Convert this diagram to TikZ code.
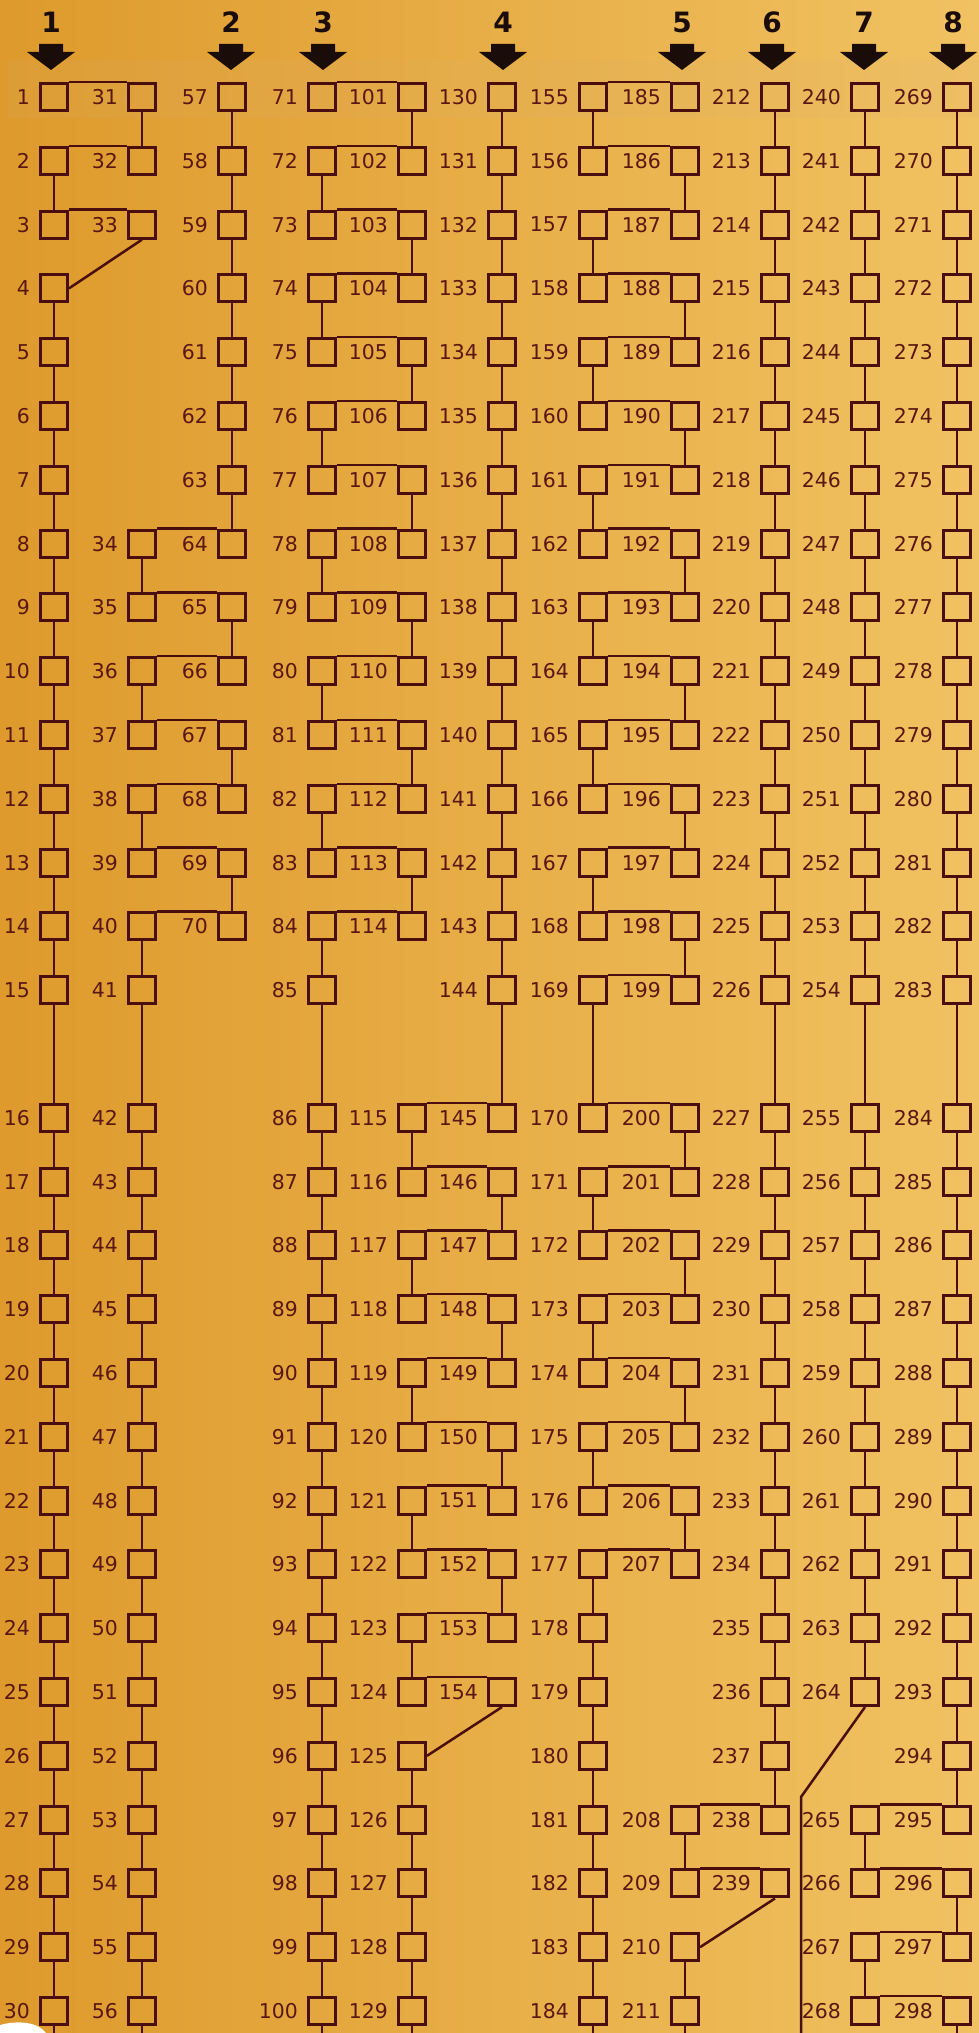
\documentclass[tikz,border=0pt]{standalone}
\usepackage{fontspec}
\setmainfont{DejaVu Sans}
\definecolor{bgl}{RGB}{222,154,44}
\definecolor{bgm}{RGB}{236,180,78}
\definecolor{bgr}{RGB}{241,194,98}
\definecolor{linec}{RGB}{74,14,14}
\definecolor{textc}{RGB}{90,22,18}
\definecolor{hdrc}{RGB}{26,12,8}
\definecolor{bandc}{RGB}{215,175,120}
\newcommand\mybox[3]{%
  \pgfmathtruncatemacro\rr{#3}%
  \pgfmathsetmacro\yy{\rr<16 ? 97+(\rr-1)*63.8 : 97+\rr*63.8}%
  \node[box,label={[lbl]left:#1}] (b#1) at (#2,\yy) {};}
\newcommand\hcon[2]{\draw[wire] (b#1.north east) -- (b#2.north west);}
\newcommand\vcon[2]{\draw[wire] (b#1.south) -- (b#2.north);}
\begin{document}
\begin{tikzpicture}[x=0.5pt,y=-0.5pt,
  wire/.style={draw=linec,line width=1.25pt},
  box/.style={rectangle,draw=linec,line width=1.5pt,minimum size=13.5pt,inner sep=0pt},
  lbl/.style={text=textc,font=\fontsize{10.2}{11}\selectfont,inner sep=0pt},
  hdr/.style={text=hdrc,font=\fontsize{14}{15}\selectfont\bfseries,inner sep=0pt},
  label distance=4.4pt,
  darrow/.pic={\fill[hdrc] (-12,44) -- (12,44) -- (12,52) -- (24,52) -- (0,70) -- (-24,52) -- (-12,52) -- cycle;}]
\useasboundingbox (0,0) rectangle (979,2033);
\shade[left color=bgl, middle color=bgm, right color=bgr] (0,0) rectangle (979,2033);
\fill[bandc,opacity=0.12] (8,60) rectangle (979,118);
\coordinate (bot) at (0,2045);
% headers
\foreach \x/\t in {51/1,231/2,323/3,503/4,682/5,772/6,864/7,953/8}{
  \node[hdr] (h\t) at (\x,22) {\t};
  \pic at (\x,0) {darrow};
}
% boxes
\foreach \n in {1,...,30}{\mybox{\n}{54}{\n}}
\foreach \n in {31,32,33}{\mybox{\n}{142}{\n-30}}
\foreach \n in {34,...,56}{\mybox{\n}{142}{\n-26}}
\foreach \n in {57,...,70}{\mybox{\n}{232}{\n-56}}
\foreach \n in {71,...,100}{\mybox{\n}{322}{\n-70}}
\foreach \n in {101,...,114}{\mybox{\n}{412}{\n-100}}
\foreach \n in {115,...,129}{\mybox{\n}{412}{\n-99}}
\foreach \n in {130,...,154}{\mybox{\n}{502}{\n-129}}
\foreach \n in {155,...,184}{\mybox{\n}{593}{\n-154}}
\foreach \n in {185,...,207}{\mybox{\n}{685}{\n-184}}
\foreach \n in {208,...,211}{\mybox{\n}{685}{\n-181}}
\foreach \n in {212,...,239}{\mybox{\n}{775}{\n-211}}
\foreach \n in {240,...,264}{\mybox{\n}{865}{\n-239}}
\foreach \n in {265,...,268}{\mybox{\n}{865}{\n-238}}
\foreach \n in {269,...,298}{\mybox{\n}{957}{\n-268}}
% A/B
\hcon{1}{31}\hcon{2}{32}\hcon{3}{33}
\vcon{31}{32}\vcon{2}{3}
\draw[wire] (b33.south) -- (b4.east);
\foreach \n in {4,...,29}{\pgfmathtruncatemacro\m{\n+1}\vcon{\n}{\m}}
\draw[wire] (b30.south) -- (b30.south |- bot);
% B/C
\foreach \n in {57,...,63}{\pgfmathtruncatemacro\m{\n+1}\vcon{\n}{\m}}
\foreach \n in {34,...,40}{\pgfmathtruncatemacro\m{\n+30}\hcon{\n}{\m}}
\foreach \n in {34,36,38,65,67,69}{\pgfmathtruncatemacro\m{\n+1}\vcon{\n}{\m}}
\foreach \n in {40,...,55}{\pgfmathtruncatemacro\m{\n+1}\vcon{\n}{\m}}
\draw[wire] (b56.south) -- (b56.south |- bot);
% D/E
\foreach \n in {71,...,84}{\pgfmathtruncatemacro\m{\n+30}\hcon{\n}{\m}}
\foreach \n in {101,103,...,113}{\pgfmathtruncatemacro\m{\n+1}\vcon{\n}{\m}}
\foreach \n in {72,74,...,82}{\pgfmathtruncatemacro\m{\n+1}\vcon{\n}{\m}}
\foreach \n in {84,...,99}{\pgfmathtruncatemacro\m{\n+1}\vcon{\n}{\m}}
\draw[wire] (b100.south) -- (b100.south |- bot);
% E/F
\foreach \n in {130,...,144}{\pgfmathtruncatemacro\m{\n+1}\vcon{\n}{\m}}
\foreach \n in {115,...,124}{\pgfmathtruncatemacro\m{\n+30}\hcon{\n}{\m}}
\foreach \n in {115,117,...,123,146,148,150,152}{\pgfmathtruncatemacro\m{\n+1}\vcon{\n}{\m}}
\draw[wire] (b154.south) -- (b125.east);
\foreach \n in {125,...,128}{\pgfmathtruncatemacro\m{\n+1}\vcon{\n}{\m}}
\draw[wire] (b129.south) -- (b129.south |- bot);
% G/H
\foreach \n in {155,...,177}{\pgfmathtruncatemacro\m{\n+30}\hcon{\n}{\m}}
\foreach \n in {155,157,...,175}{\pgfmathtruncatemacro\m{\n+1}\vcon{\n}{\m}}
\foreach \n in {177,...,183}{\pgfmathtruncatemacro\m{\n+1}\vcon{\n}{\m}}
\foreach \n in {186,188,...,206}{\pgfmathtruncatemacro\m{\n+1}\vcon{\n}{\m}}
\draw[wire] (b184.south) -- (b184.south |- bot);
% H/I
\foreach \n in {212,...,237}{\pgfmathtruncatemacro\m{\n+1}\vcon{\n}{\m}}
\hcon{208}{238}\hcon{209}{239}\vcon{208}{209}
\draw[wire] (b239.south) -- (b210.east);
\vcon{210}{211}
\draw[wire] (b211.south) -- (b211.south |- bot);
% J/K
\foreach \n in {240,...,263}{\pgfmathtruncatemacro\m{\n+1}\vcon{\n}{\m}}
\coordinate (jbend) at (801,1797);
\draw[wire] (b264.south) -- (jbend) -- (jbend |- bot);
\foreach \n in {269,...,294}{\pgfmathtruncatemacro\m{\n+1}\vcon{\n}{\m}}
\hcon{265}{295}\hcon{266}{296}\hcon{267}{297}\hcon{268}{298}
\vcon{265}{266}\vcon{296}{297}\vcon{267}{268}
\draw[wire] (b298.south) -- (b298.south |- bot);
% paper tear
\fill[white] (0,2025) .. controls (18,2020) and (38,2022) .. (46,2033) -- (0,2033) -- cycle;
\end{tikzpicture}
\end{document}
